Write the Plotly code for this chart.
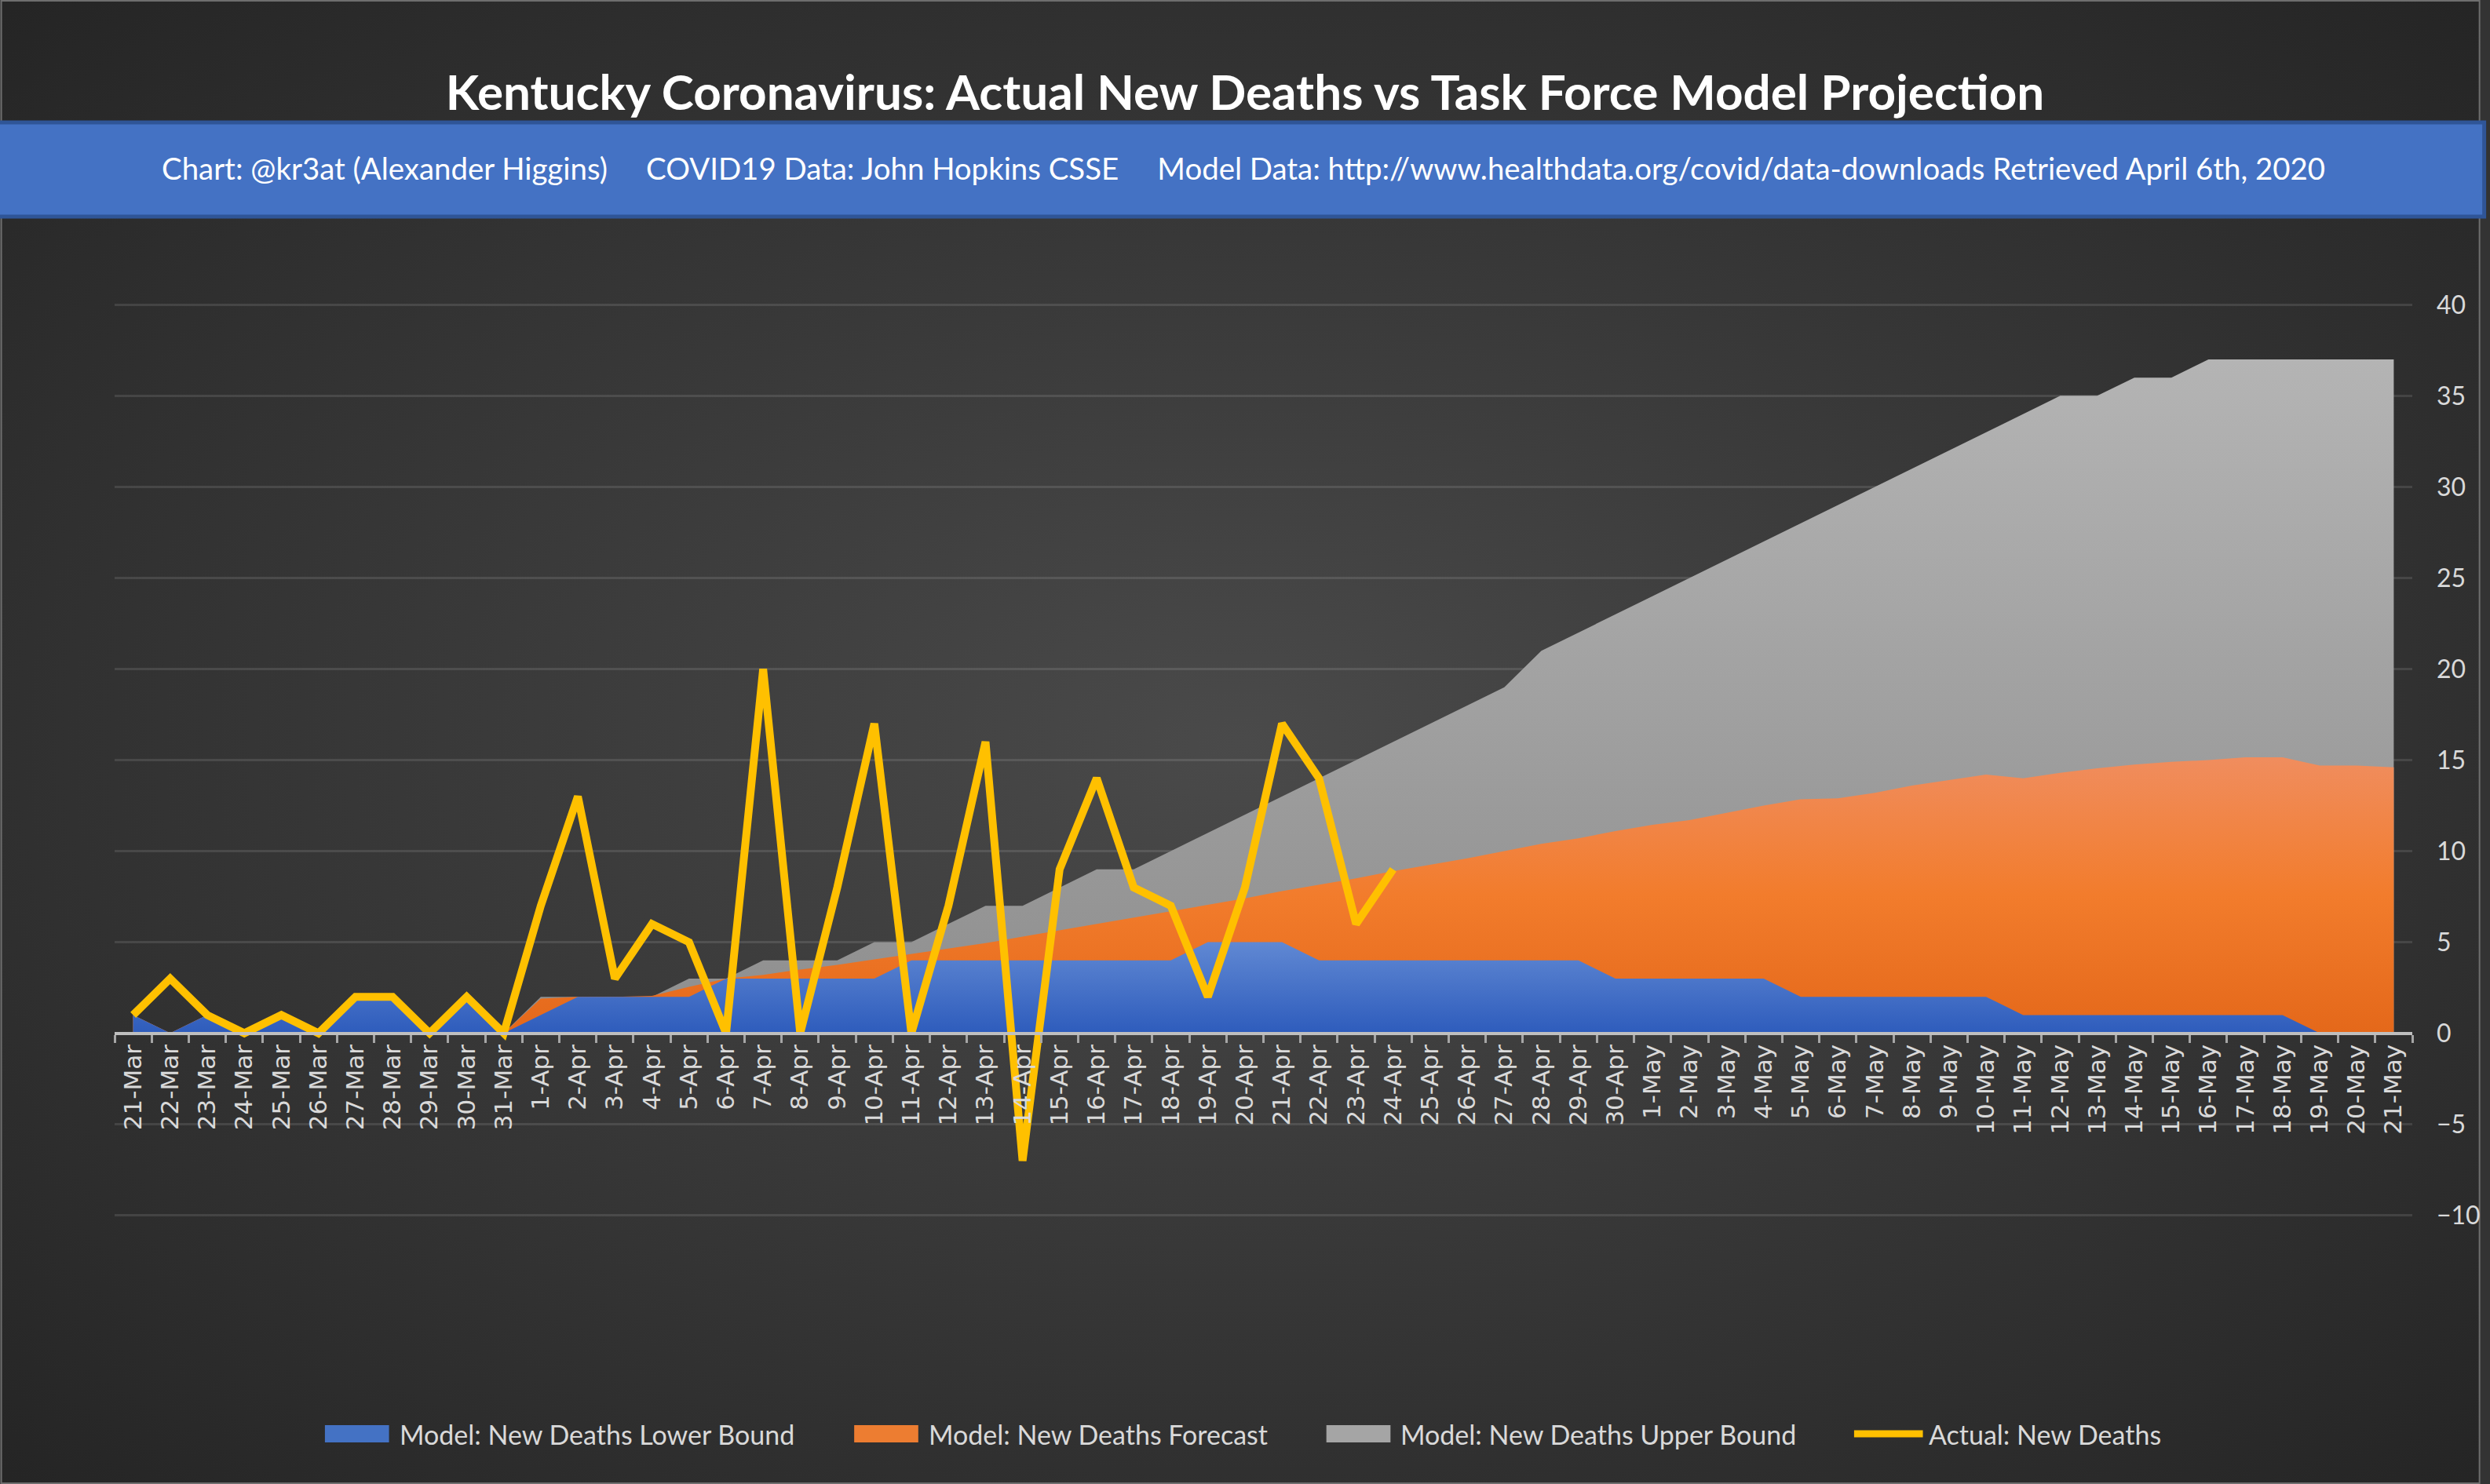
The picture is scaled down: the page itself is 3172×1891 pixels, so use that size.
import base64
import plotly.graph_objects as go

# Data
dates = (
    [f"{d}-Mar" for d in range(21, 32)]
    + [f"{d}-Apr" for d in range(1, 31)]
    + [f"{d}-May" for d in range(1, 22)]
)

actual_new_deaths = [1, 3, 1, 0, 1, 0, 2, 2, 0, 2, 0,
                     7, 13, 3, 6, 5, 0, 20, 0, 8, 17, 0, 7, 16, -7, 9, 14, 8, 7, 2, 8, 17, 14, 6, 9]

lower_bound = [1, 0, 1, 0, 1, 0, 2, 2, 0, 2, 0,
               1, 2, 2, 2, 2, 3, 3, 3, 3, 3, 4, 4, 4, 4, 4, 4, 4, 4, 5, 5, 5, 4, 4, 4, 4, 4, 4, 4, 4, 3,
               3, 3, 3, 3, 2, 2, 2, 2, 2, 2, 1, 1, 1, 1, 1, 1, 1, 1, 0, 0, 0]

forecast = [1, 0, 1, 0, 1, 0, 2, 2, 0, 2, 0,
            1.9, 2.0, 2.0, 2.05, 2.55, 3.0, 3.2, 3.5, 3.75, 4.05, 4.35, 4.65, 4.95, 5.3, 5.65, 6.0,
            6.35, 6.7, 7.05, 7.4, 7.8, 8.15, 8.5, 8.9, 9.25, 9.6, 10.0, 10.4, 10.7, 11.1,
            11.45, 11.7, 12.1, 12.5, 12.85, 12.9, 13.2, 13.6, 13.9, 14.2, 14.0, 14.3, 14.55, 14.75,
            14.9, 15.0, 15.15, 15.15, 14.7, 14.7, 14.6]

upper_bound = [1, 0, 1, 0, 1, 0, 2, 2, 0, 2, 0,
               2, 2, 2, 2, 3, 3, 4, 4, 4, 5, 5, 6, 7, 7, 8, 9, 9, 10, 11, 12, 13, 14, 15, 16, 17, 18,
               19, 21, 22, 23, 24, 25, 26, 27, 28, 29, 30, 31, 32, 33, 34, 35, 35, 36, 36, 37, 37, 37,
               37, 37, 37]

y_ticks = [-10, -5, 0, 5, 10, 15, 20, 25, 30, 35, 40]

series_names = ["Model: New Deaths Lower Bound", "Model: New Deaths Forecast",
                "Model: New Deaths Upper Bound", "Actual: New Deaths"]
series_colors = ["#4472c4", "#ed7d31", "#a5a5a5", "#ffc000"]

# Figure geometry
W, H = 3172, 1891
ML, MR, MT, MB = 146, 87, 386, 340
PW, PH = W - ML - MR, H - MT - MB


def px_x(px):
    return (px - ML) / PW


def px_y(py):
    return (H - MB - py) / PH


# small padding so the outer gridlines (-10 and 40) are still drawn
eps = 0.1
y_range = [y_ticks[0] - eps, y_ticks[-1] + eps]
zero_pos = (0 - y_range[0]) / (y_range[1] - y_range[0])

actual_padded = actual_new_deaths + [None] * (len(dates) - len(actual_new_deaths))

fig = go.Figure()

fig.add_trace(go.Scatter(
    x=dates, y=upper_bound, name=series_names[2],
    mode="lines", line=dict(width=0, color=series_colors[2]), fill="tozeroy",
    fillgradient=dict(type="vertical", colorscale=[[0, "#8e8e8e"], [1, "#b4b4b4"]]),
    showlegend=False,
))
fig.add_trace(go.Scatter(
    x=dates, y=forecast, name=series_names[1],
    mode="lines", line=dict(width=0, color=series_colors[1]), fill="tozeroy",
    fillgradient=dict(type="vertical",
                      colorscale=[[0, "#e4681a"], [0.5, "#f27c2c"], [1, "#f08d5e"]]),
    showlegend=False,
))
fig.add_trace(go.Scatter(
    x=dates, y=lower_bound, name=series_names[0],
    mode="lines", line=dict(width=0, color=series_colors[0]), fill="tozeroy",
    fillgradient=dict(type="vertical", colorscale=[[0, "#2e5cbc"], [1, "#6088d3"]]),
    showlegend=False,
))
fig.add_trace(go.Scatter(
    x=dates, y=actual_padded, name=series_names[3],
    mode="lines", line=dict(width=10, color=series_colors[3]),
    showlegend=False,
))

# radial gradient background
svg = (
    f'<svg xmlns="http://www.w3.org/2000/svg" width="{W}" height="{H}">'
    '<defs><radialGradient id="g" cx="50%" cy="50%" r="72%">'
    '<stop offset="0" stop-color="#4a4a4a"/><stop offset="1" stop-color="#242424"/>'
    '</radialGradient></defs><rect width="100%" height="100%" fill="url(#g)"/></svg>'
)
bg_src = "data:image/svg+xml;base64," + base64.b64encode(svg.encode()).decode()

fig.add_layout_image(
    source=bg_src, xref="paper", yref="paper",
    x=px_x(0), y=px_y(0), sizex=W / PW, sizey=H / PH,
    xanchor="left", yanchor="top", sizing="stretch", layer="below",
)

# thin frame around the chart
fig.add_shape(type="rect", xref="paper", yref="paper",
              x0=px_x(1), x1=px_x(W - 1), y0=px_y(1), y1=px_y(H - 1),
              line=dict(color="#6e6e6e", width=2), layer="below")

# blue banner
fig.add_shape(
    type="rect", xref="paper", yref="paper",
    x0=px_x(-5), x1=px_x(W + 5), y0=px_y(156), y1=px_y(276),
    fillcolor="#4472c4", line=dict(color="#2f5597", width=5), layer="below",
)

fig.add_annotation(
    xref="paper", yref="paper", x=px_x(1590), y=px_y(214),
    xanchor="center", yanchor="middle", showarrow=False,
    text=("Chart: @kr3at (Alexander Higgins)\u00a0\u00a0\u00a0\u00a0\u00a0"
          "COVID19 Data: John Hopkins CSSE\u00a0\u00a0\u00a0\u00a0\u00a0"
          "Model Data: http://www.healthdata.org/covid/data-downloads Retrieved April 6th, 2020"),
    font=dict(family="Lato", size=38.4, color="#ffffff"),
)

# legend drawn by hand (wide swatches as in the original)
swatch_x = [415, 1092, 1696, 2371]
legend_y = 1827
for i, (name, color) in enumerate(zip(series_names, series_colors)):
    x0 = swatch_x[i]
    if i < 3:
        fig.add_shape(type="rect", xref="paper", yref="paper",
                      x0=px_x(x0), x1=px_x(x0 + 82),
                      y0=px_y(legend_y + 11), y1=px_y(legend_y - 11),
                      fillcolor=color, line=dict(width=0))
    else:
        fig.add_shape(type="line", xref="paper", yref="paper",
                      x0=px_x(x0), x1=px_x(x0 + 88),
                      y0=px_y(legend_y), y1=px_y(legend_y),
                      line=dict(color=color, width=9))
    fig.add_annotation(xref="paper", yref="paper", x=px_x(x0 + 93), y=px_y(legend_y),
                       xanchor="left", yanchor="middle", showarrow=False, text=name,
                       font=dict(family="Lato", size=34, color="#d9d9d9"))

fig.update_layout(
    width=W, height=H,
    margin=dict(l=ML, r=MR, t=MT, b=MB),
    paper_bgcolor="#333333",
    plot_bgcolor="rgba(0,0,0,0)",
    title=dict(
        text="<b>Kentucky Coronavirus: Actual New Deaths vs Task Force Model Projection</b>",
        x=0.5, xref="container", xanchor="center",
        y=1 - 118 / H, yref="container", yanchor="middle",
        font=dict(family="Lato", size=62, color="#ffffff"),
    ),
    xaxis=dict(
        type="category", categoryorder="array", categoryarray=dates,
        range=[-0.5, len(dates) - 0.5],
        anchor="free", position=zero_pos,
        showline=True, linecolor="#bfbfbf", linewidth=4,
        ticks="outside", ticklen=10, tickwidth=3, tickcolor="#a6a6a6",
        tickson="boundaries", tickangle=-90,
        tickfont=dict(family="DejaVu Sans", size=31, color="#d9d9d9"),
        showgrid=False, zeroline=False,
    ),
    yaxis=dict(
        range=y_range, tickvals=y_ticks, side="right",
        showgrid=True, gridcolor="rgba(255,255,255,0.11)", gridwidth=3,
        zeroline=False, showline=False,
        tickfont=dict(family="Lato", size=32, color="#d9d9d9"),
        ticklabelstandoff=30,
    ),
    showlegend=False,
)

fig.write_html("out.html", config={"displayModeBar": False},
               post_script="document.body.style.margin='0';")
